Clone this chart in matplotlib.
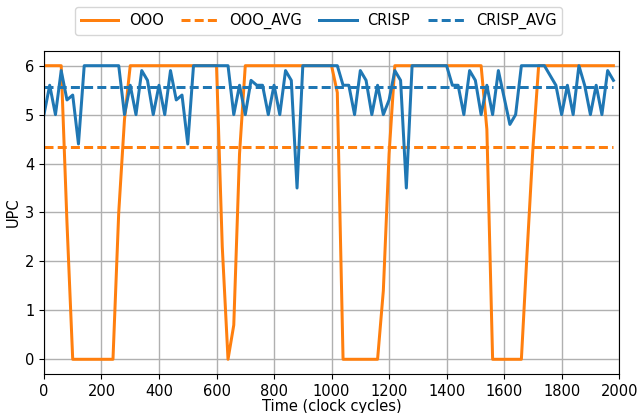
import matplotlib
matplotlib.use("Agg")
import matplotlib.pyplot as plt
import numpy as np

cycles = list(range(0, 2000, 20))

ooo = [6.0, 6.0, 6.0, 6.0, 2.8, 0.0, 0.0, 0.0, 0.0, 0.0,
       0.0, 0.0, 0.0, 3.0, 4.9, 6.0, 6.0, 6.0, 6.0, 6.0,
       6.0, 6.0, 6.0, 6.0, 6.0, 6.0, 6.0, 6.0, 6.0, 6.0,
       6.0, 2.3, 0.0, 0.7, 4.2, 6.0, 6.0, 6.0, 6.0, 6.0,
       6.0, 6.0, 6.0, 6.0, 6.0, 6.0, 6.0, 6.0, 6.0, 6.0,
       6.0, 5.45, 0.0, 0.0, 0.0, 0.0, 0.0, 0.0, 0.0, 1.4,
       4.2, 6.0, 6.0, 6.0, 6.0, 6.0, 6.0, 6.0, 6.0, 6.0,
       6.0, 6.0, 6.0, 6.0, 6.0, 6.0, 6.0, 4.7, 0.0, 0.0,
       0.0, 0.0, 0.0, 0.0, 2.2, 4.3, 6.0, 6.0, 6.0, 6.0,
       6.0, 6.0, 6.0, 6.0, 6.0, 6.0, 6.0, 6.0, 6.0, 6.0]

crisp = [5.0, 5.6, 5.0, 5.9, 5.3, 5.4, 4.4, 6.0, 6.0, 6.0,
         6.0, 6.0, 6.0, 6.0, 5.0, 5.6, 5.0, 5.9, 5.7, 5.0,
         5.6, 5.0, 5.9, 5.3, 5.4, 4.4, 6.0, 6.0, 6.0, 6.0,
         6.0, 6.0, 6.0, 5.0, 5.6, 5.0, 5.7, 5.6, 5.6, 5.0,
         5.6, 5.0, 5.9, 5.7, 3.5, 6.0, 6.0, 6.0, 6.0, 6.0,
         6.0, 6.0, 5.6, 5.6, 5.0, 5.9, 5.7, 5.0, 5.6, 5.0,
         5.3, 5.9, 5.7, 3.5, 6.0, 6.0, 6.0, 6.0, 6.0, 6.0,
         6.0, 5.6, 5.6, 5.0, 5.9, 5.7, 5.0, 5.6, 5.0, 5.9,
         5.35, 4.8, 5.0, 6.0, 6.0, 6.0, 6.0, 6.0, 5.8, 5.6,
         5.0, 5.6, 5.0, 6.0, 5.6, 5.0, 5.6, 5.0, 5.9, 5.7]

ooo_avg = 4.34
crisp_avg = 5.56

series_labels = ["OOO", "OOO_AVG", "CRISP", "CRISP_AVG"]

fig = plt.figure(figsize=(6.37, 4.13), dpi=100)
ax = fig.add_axes([0.069, 0.0945, 0.903, 0.782])

fs = 10.5
lw = 2.16
orange = "#ff7f0e"
blue = "#1f77b4"

ax.plot(cycles, ooo, color=orange, lw=lw, label=series_labels[0])
ax.plot(cycles, [ooo_avg] * len(cycles), color=orange, lw=lw, ls="--",
        dashes=(3.0, 1.4), label=series_labels[1])
ax.plot(cycles, crisp, color=blue, lw=lw, label=series_labels[2])
ax.plot(cycles, [crisp_avg] * len(cycles), color=blue, lw=lw, ls="--",
        dashes=(3.0, 1.4), label=series_labels[3])

ax.set_xlim(0, 2000)
ax.set_ylim(-0.3, 6.3)
ax.set_xticks(range(0, 2001, 200))
ax.set_yticks(range(0, 7))
ax.grid(True, color="#b0b0b0", lw=1.0)
ax.set_axisbelow(True)
ax.tick_params(labelsize=fs)
ax.set_xlabel("Time (clock cycles)", fontsize=fs, labelpad=0)
ax.set_ylabel("UPC", fontsize=fs, labelpad=3)

ax.legend(loc="lower center", bbox_to_anchor=(0.5, 0.898),
          bbox_transform=fig.transFigure, ncol=4,
          fontsize=fs, frameon=True, handlelength=2.6, columnspacing=1.2,
          handletextpad=0.7)

fig.savefig("out.png", dpi=100)
